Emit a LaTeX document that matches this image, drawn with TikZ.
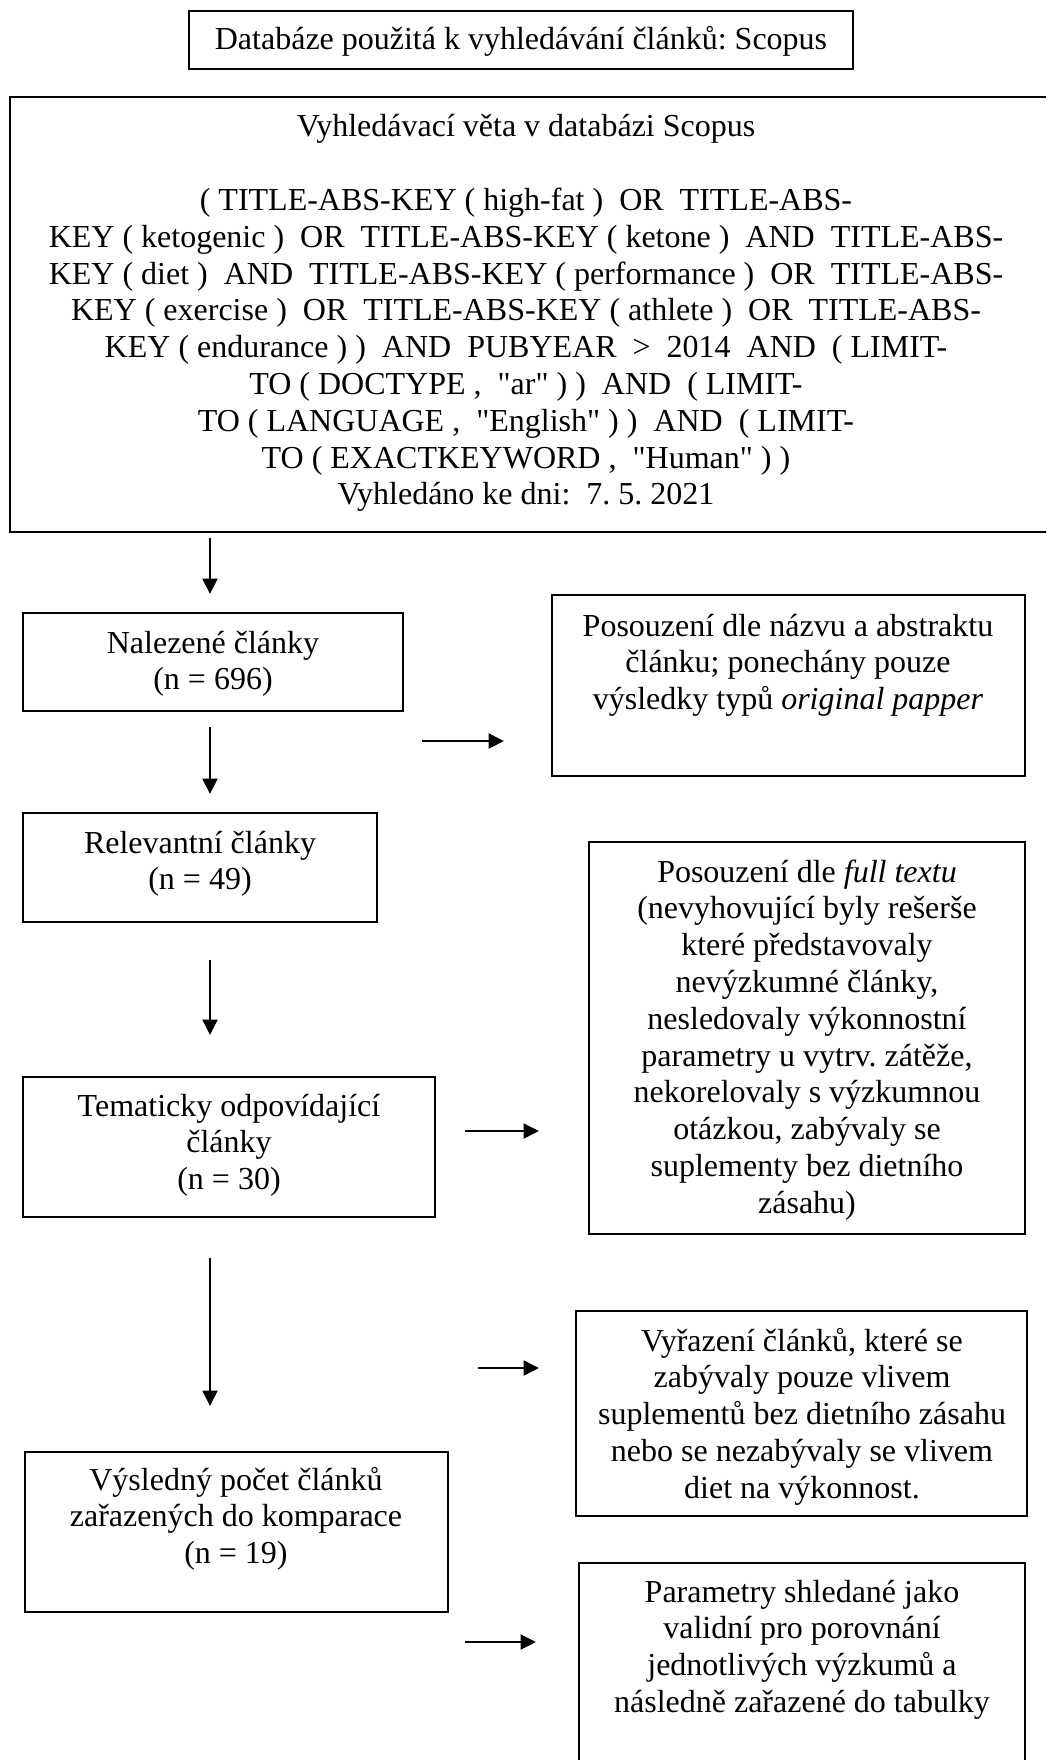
\documentclass[tikz,border=0pt]{standalone}
\usepackage{fontspec}
\setmainfont{Liberation Serif}[Ligatures=TeXOff]
\usetikzlibrary{arrows.meta}
\begin{document}
\begin{tikzpicture}[x=1pt,y=-1pt,
  box/.style={draw=black, line width=2pt, inner sep=0pt, outer sep=0pt, anchor=north west},
  txt/.style={anchor=base, inner sep=0pt, outer sep=0pt,
    font=\fontsize{32}{36.8}\selectfont,
    execute at begin node={\centering\frenchspacing\spaceskip=0.25em\relax}},
  arr/.style={line width=2pt, -{Triangle[length=15.5pt,width=15pt]}}]
\useasboundingbox (0,0) rectangle (1046,1760);
\fill[white] (0,0) rectangle (1046,1760);
\clip (0,0) rectangle (1046,1760);

% boxes
\node[box, minimum width=664pt, minimum height=58pt] (db) at (189,11) {};
\node[box, minimum width=1060pt, minimum height=435pt] (query) at (10,97) {};
\node[box, minimum width=380pt, minimum height=98pt] (found) at (23,613) {};
\node[box, minimum width=473pt, minimum height=181pt] (ex1) at (552,595) {};
\node[box, minimum width=354pt, minimum height=109pt] (rel) at (23,813) {};
\node[box, minimum width=436pt, minimum height=392pt] (ex2) at (589,842) {};
\node[box, minimum width=412pt, minimum height=140pt] (tem) at (23,1077) {};
\node[box, minimum width=451pt, minimum height=205pt] (ex3) at (576,1311) {};
\node[box, minimum width=423pt, minimum height=160pt] (res) at (25,1452) {};
\node[box, minimum width=446pt, minimum height=260pt] (ex4) at (579,1563) {};

% texts
\node[txt, text width=640pt] (dbT) at (521,50) {Databáze použitá k vyhledávání článků: Scopus};
\node[txt, text width=1020pt] (queryT) at (526,137) {Vyhledávací věta v databázi Scopus\\[\baselineskip]
( TITLE-ABS-KEY ( high-fat )~~OR~~TITLE-ABS-\\
KEY ( ketogenic )~~OR~~TITLE-ABS-KEY ( ketone )~~AND~~TITLE-ABS-\\
KEY ( diet )~~AND~~TITLE-ABS-KEY ( performance )~~OR~~TITLE-ABS-\\
KEY ( exercise )~~OR~~TITLE-ABS-KEY ( athlete )~~OR~~TITLE-ABS-\\
KEY ( endurance ) )~~AND~~PUBYEAR~~>~~2014~~AND~~( LIMIT-\\
TO ( DOCTYPE ,~~"ar" ) )~~AND~~( LIMIT-\\
TO ( LANGUAGE ,~~"English" ) )~~AND~~( LIMIT-\\
TO ( EXACTKEYWORD ,~~"Human" ) )\\
Vyhledáno ke dni:~~7. 5. 2021};
\node[txt, text width=370pt] (foundT) at (213,653) {Nalezené články\\(n = 696)};
\node[txt, text width=460pt] (ex1T) at (788,636) {Posouzení dle názvu a abstraktu\\článku; ponechány pouze\\výsledky typů \textit{original papper}};
\node[txt, text width=340pt] (relT) at (200,853) {Relevantní články\\(n = 49)};
\node[txt, text width=420pt] (ex2T) at (807,882) {Posouzení dle \textit{full textu}\\(nevyhovující byly rešerše\\které představovaly\\nevýzkumné články,\\nesledovaly výkonnostní\\parametry u vytrv. zátěže,\\nekorelovaly s výzkumnou\\otázkou, zabývaly se\\suplementy bez dietního\\zásahu)};
\node[txt, text width=400pt] (temT) at (229,1116) {Tematicky odpovídající\\články\\(n = 30)};
\node[txt, text width=440pt] (ex3T) at (802,1351) {Vyřazení článků, které se\\zabývaly pouze vlivem\\suplementů bez dietního zásahu\\nebo se nezabývaly se vlivem\\diet na výkonnost.};
\node[txt, text width=410pt] (resT) at (236,1490) {Výsledný počet článků\\zařazených do komparace\\(n = 19)};
\node[txt, text width=436pt] (ex4T) at (802,1602) {Parametry shledané jako\\validní pro porovnání\\jednotlivých výzkumů a\\následně zařazené do tabulky};

% arrow end points
\coordinate (a1s) at (210,538);  \coordinate (a1e) at (210,594);
\coordinate (a2s) at (210,727);  \coordinate (a2e) at (210,794);
\coordinate (a3s) at (210,960);  \coordinate (a3e) at (210,1035);
\coordinate (a4s) at (210,1258); \coordinate (a4e) at (210,1406);
\coordinate (r1s) at (422,741);  \coordinate (r1e) at (504,741);
\coordinate (r2s) at (465,1131); \coordinate (r2e) at (539,1131);
\coordinate (r3s) at (478,1368); \coordinate (r3e) at (539,1368);
\coordinate (r4s) at (465,1642); \coordinate (r4e) at (536,1642);

\draw[arr] (a1s) -- (a1e);
\draw[arr] (a2s) -- (a2e);
\draw[arr] (a3s) -- (a3e);
\draw[arr] (a4s) -- (a4e);
\draw[arr] (r1s) -- (r1e);
\draw[arr] (r2s) -- (r2e);
\draw[arr] (r3s) -- (r3e);
\draw[arr] (r4s) -- (r4e);
\end{tikzpicture}
\end{document}
